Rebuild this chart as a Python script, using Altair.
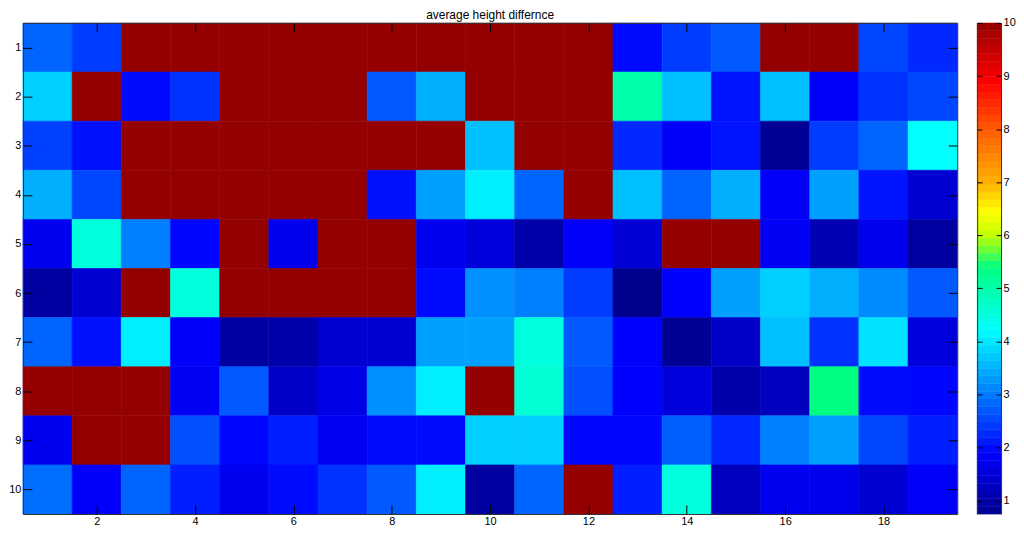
import altair as alt
import pandas as pd

rows = list(range(1, 11))
cols = list(range(1, 20))
x_ticks = [2, 4, 6, 8, 10, 12, 14, 16, 18]
cbar_ticks = [1, 2, 3, 4, 5, 6, 7, 8, 9, 10]
R = 10

row1 = [2.8, 2.44, R, R, R, R, R, R, R, R, R, R, 1.99, 2.44, 2.71, R, R, 2.53, 2.26]
row2 = [3.78, R, 1.99, 2.35, R, R, R, 2.71, 3.49, R, R, R, 5.0, 3.63, 2.08, 3.63, 1.85, 2.35, 2.53]
row3 = [2.48, 2.04, R, R, R, R, R, R, R, 3.63, R, R, 2.26, 1.85, 2.08, 0.82, 2.44, 2.8, 4.2]
row4 = [3.49, 2.55, R, R, R, R, R, 2.04, 3.34, 4.06, 2.8, R, 3.63, 2.8, 3.49, 1.85, 3.34, 2.08, 1.44]
row5 = [1.75, 4.53, 3.05, 1.95, R, 1.7, R, R, 1.75, 1.54, 1.03, 1.85, 1.49, R, R, 1.8, 1.13, 1.7, 0.92]
row6 = [0.92, 1.44, R, 4.53, R, R, R, R, 1.99, 3.2, 3.05, 2.44, 0.75, 1.9, 3.34, 3.78, 3.49, 3.16, 2.71]
row7 = [2.8, 2.04, 4.06, 1.85, 0.92, 1.03, 1.44, 1.44, 3.34, 3.34, 4.53, 2.71, 1.9, 0.82, 1.34, 3.63, 2.35, 3.92, 1.54]
row8 = [R, R, R, 1.8, 2.71, 1.34, 1.64, 3.2, 4.06, R, 4.6, 2.62, 1.9, 1.54, 1.03, 1.23, 5.4, 1.99, 1.95]
row9 = [1.75, R, R, 2.62, 1.95, 2.17, 1.8, 1.99, 1.99, 3.78, 3.78, 1.95, 1.95, 2.77, 2.26, 3.05, 3.34, 2.53, 2.17]
row10 = [2.89, 1.85, 2.8, 2.17, 1.75, 1.99, 2.35, 2.71, 4.06, 0.92, 2.8, R, 2.17, 4.53, 1.23, 1.75, 1.7, 1.44, 1.85]
grid = [row1, row2, row3, row4, row5, row6, row7, row8, row9, row10]

cmin, cmax = 0.75, 10.0
n_levels = 64

records = []
for r, vals in zip(rows, grid):
    for c, v in zip(cols, vals):
        records.append({"row": r, "col": c, "value": v})
df = pd.DataFrame(records)

color_domain = [0.75, 1.9, 4.2, 5.4, 6.0, 6.45, 7.0, 8.0, 8.9, 10]
color_range = ["#00008f", "#0000ff", "#00ffff", "#00ff80", "#c0ff00",
               "#ffff00", "#ffb000", "#ff5a00", "#ff0000", "#940000"]
color_scale = alt.Scale(domain=color_domain, range=color_range, clamp=True, interpolate="rgb")

FONT = "Liberation Sans"
FRAME = "#333333"
W, H = 938, 493
CB_W = 24


def frame_axis(orient, values, labels):
    # frame edge (+ labels) at the plot border, no ticks
    if labels:
        return alt.Axis(orient=orient, values=values, title=None, grid=False, domain=True,
                        domainColor=FRAME, domainWidth=1, ticks=False, tickSize=0,
                        labels=True, labelPadding=2, labelColor="#000", labelFont=FONT,
                        labelFontSize=11, minExtent=0, zindex=2)
    return alt.Axis(orient=orient, values=values, title=None, grid=False, domain=True,
                    domainColor=FRAME, domainWidth=1, ticks=False, tickSize=0,
                    labels=False, labelPadding=0, minExtent=0, maxExtent=0, zindex=2)


def tick_axis(orient, values, size):
    # inward ticks: axis shifted into the plot by its tick length
    return alt.Axis(orient=orient, values=values, title=None, grid=False, domain=False,
                    ticks=True, tickSize=size, offset=-size, tickColor="#000", tickWidth=1,
                    labels=False, labelPadding=0, minExtent=0, maxExtent=0, zindex=2)


# ---------------- heatmap ----------------
xs = alt.Scale(domain=[0.5, 19.5], nice=False, zero=False)
ys = alt.Scale(domain=[0.5, 10.5], nice=False, zero=False, reverse=True)

base = alt.Chart(df).transform_calculate(
    x0="datum.col - 0.5", x1="datum.col + 0.5",
    y0="datum.row - 0.5", y1="datum.row + 0.5")


def heat_layer(xaxis, yaxis, visible):
    mark = base.mark_rect(strokeWidth=0.6) if visible else base.mark_rect(opacity=0)
    enc = dict(
        x=alt.X("x0:Q", scale=xs, axis=xaxis), x2="x1:Q",
        y=alt.Y("y0:Q", scale=ys, axis=yaxis), y2="y1:Q",
    )
    if visible:
        enc["color"] = alt.Color("value:Q", scale=color_scale, legend=None)
        enc["stroke"] = alt.Color("value:Q", scale=color_scale, legend=None)
    return mark.encode(**enc)


heatmap = alt.layer(
    heat_layer(frame_axis("bottom", x_ticks, True), frame_axis("left", rows, True), True),
    heat_layer(frame_axis("top", x_ticks, False), frame_axis("right", rows, False), False),
    heat_layer(tick_axis("bottom", x_ticks, 9), tick_axis("left", rows, 9), False),
    heat_layer(tick_axis("top", x_ticks, 9), tick_axis("right", rows, 9), False),
).resolve_axis(x="independent", y="independent").properties(
    width=W, height=H,
    title=alt.TitleParams("average height differnce", font=FONT, fontSize=12,
                          fontWeight="normal", color="#000", offset=0),
)

# ---------------- colour bar ----------------
step = (cmax - cmin) / n_levels
cb_base = alt.Chart(alt.sequence(0, n_levels, as_="i")).transform_calculate(
    lo=f"{cmin} + datum.i * {step}", hi=f"{cmin} + (datum.i + 1) * {step}",
    mid=f"{cmin} + (datum.i + 0.5) * {step}", bx0="0", bx1="1")
cys = alt.Scale(domain=[cmin, cmax], nice=False, zero=False)
cxs = alt.Scale(domain=[0, 1], nice=False, zero=False)


def cb_layer(yaxis, visible):
    mark = cb_base.mark_rect(strokeWidth=0.5) if visible else cb_base.mark_rect(opacity=0)
    enc = dict(
        x=alt.X("bx0:Q", scale=cxs, axis=None), x2="bx1:Q",
        y=alt.Y("lo:Q", scale=cys, axis=yaxis), y2="hi:Q",
    )
    if visible:
        enc["color"] = alt.Color("mid:Q", scale=color_scale, legend=None)
        enc["stroke"] = alt.Color("mid:Q", scale=color_scale, legend=None)
    return mark.encode(**enc)


colorbar = alt.layer(
    cb_layer(frame_axis("right", cbar_ticks, True), True),
    cb_layer(frame_axis("left", cbar_ticks, False), False),
    cb_layer(tick_axis("right", cbar_ticks, 5), False),
    cb_layer(tick_axis("left", cbar_ticks, 5), False),
).resolve_axis(y="independent").properties(width=CB_W, height=H)

chart = alt.hconcat(heatmap, colorbar, spacing=18).properties(
    padding={"left": 0, "top": 0, "right": 0, "bottom": 0}
).configure_view(stroke=FRAME, strokeWidth=1).configure(background="white")

chart.save("out.html", embed_options={"renderer": "svg", "actions": False})
